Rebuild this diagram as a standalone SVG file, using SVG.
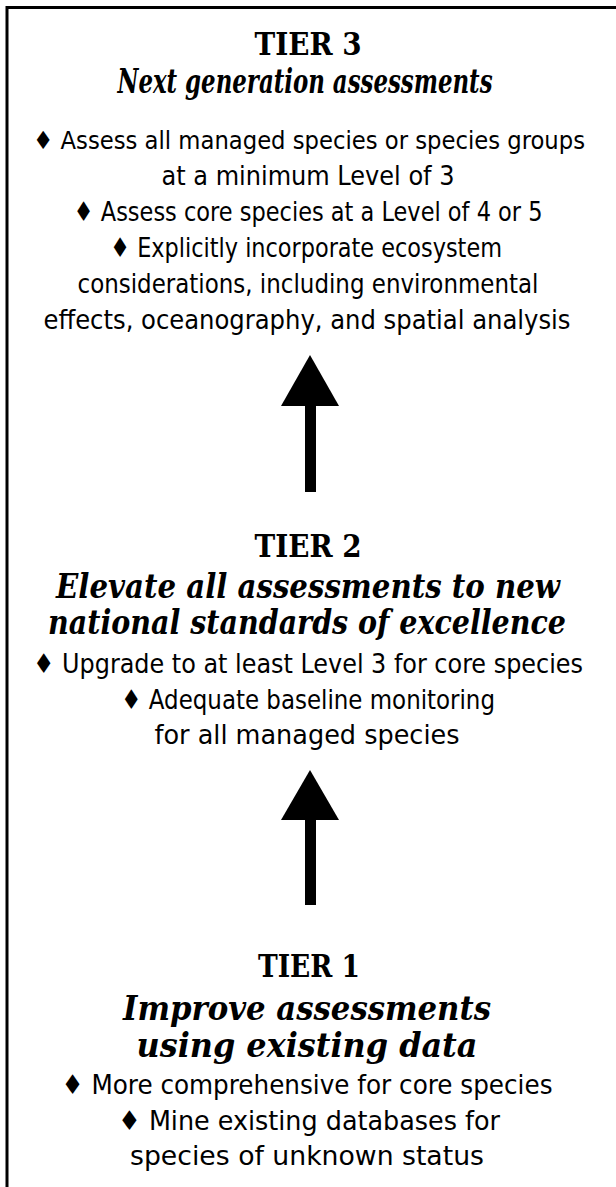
<svg xmlns="http://www.w3.org/2000/svg" width="616" height="1187" viewBox="0 0 616 1187">
<style>
.h{font-family:"DejaVu Serif Condensed","DejaVu Serif",serif;font-weight:bold;font-size:31px;fill:#000;text-anchor:middle}
.s{font-family:"DejaVu Serif Condensed","DejaVu Serif",serif;font-weight:bold;font-style:italic;font-size:33px;fill:#000;text-anchor:middle}
.b{font-family:"DejaVu Sans Condensed","DejaVu Sans",sans-serif;font-size:27px;fill:#000;text-anchor:middle}
.arr{fill:#000}
</style>
<rect width="616" height="1187" fill="#fff"/>
<path d="M7,1187 V7.5 H616" fill="none" stroke="#000" stroke-width="3"/>
<g id="tier3">
<text class="h" x="308" y="55" textLength="107" lengthAdjust="spacingAndGlyphs">TIER 3</text>
<text class="s" x="305" y="93" textLength="375" lengthAdjust="spacingAndGlyphs">Next generation assessments</text>
<text class="b" x="309" y="149" style="font-size:25px" textLength="552" lengthAdjust="spacingAndGlyphs">♦ Assess all managed species or species groups</text>
<text class="b" x="308" y="185" textLength="293" lengthAdjust="spacingAndGlyphs">at a minimum Level of 3</text>
<text class="b" x="308" y="221" textLength="469" lengthAdjust="spacingAndGlyphs">♦ Assess core species at a Level of 4 or 5</text>
<text class="b" x="306" y="257" textLength="392" lengthAdjust="spacingAndGlyphs">♦ Explicitly incorporate ecosystem</text>
<text class="b" x="308" y="293" textLength="461" lengthAdjust="spacingAndGlyphs">considerations, including environmental</text>
<text class="b" x="307" y="329" textLength="527" lengthAdjust="spacingAndGlyphs">effects, oceanography, and spatial analysis</text>
</g>
<g id="tier2">
<text class="h" x="308" y="557" textLength="107" lengthAdjust="spacingAndGlyphs">TIER 2</text>
<text class="s" x="308" y="598" textLength="504" lengthAdjust="spacingAndGlyphs">Elevate all assessments to new</text>
<text class="s" x="307" y="634" textLength="518" lengthAdjust="spacingAndGlyphs">national standards of excellence</text>
<text class="b" x="308" y="673" textLength="550" lengthAdjust="spacingAndGlyphs">♦ Upgrade to at least Level 3 for core species</text>
<text class="b" x="308" y="709" textLength="374" lengthAdjust="spacingAndGlyphs">♦ Adequate baseline monitoring</text>
<text class="b" x="307" y="744" textLength="305" lengthAdjust="spacingAndGlyphs">for all managed species</text>
</g>
<g id="tier1">
<text class="h" x="309" y="977" textLength="102" lengthAdjust="spacingAndGlyphs">TIER 1</text>
<text class="s" x="307" y="1020" textLength="368" lengthAdjust="spacingAndGlyphs">Improve assessments</text>
<text class="s" x="307" y="1057" textLength="341" lengthAdjust="spacingAndGlyphs">using existing data</text>
<text class="b" x="307" y="1094" textLength="491" lengthAdjust="spacingAndGlyphs">♦ More comprehensive for core species</text>
<text class="b" x="309" y="1130" textLength="382" lengthAdjust="spacingAndGlyphs">♦ Mine existing databases for</text>
<text class="b" x="307" y="1165" textLength="354" lengthAdjust="spacingAndGlyphs">species of unknown status</text>
</g>
<g id="connectors">
<g id="arrow-1-2">
<polygon class="arr" points="310,355 281,406 339,406"/>
<rect class="arr" x="305" y="406" width="11" height="86"/>
</g>
<g id="arrow-2-3">
<polygon class="arr" points="310,770 281,820 339,820"/>
<rect class="arr" x="305" y="820" width="11" height="85"/>
</g>
</g>
</svg>
